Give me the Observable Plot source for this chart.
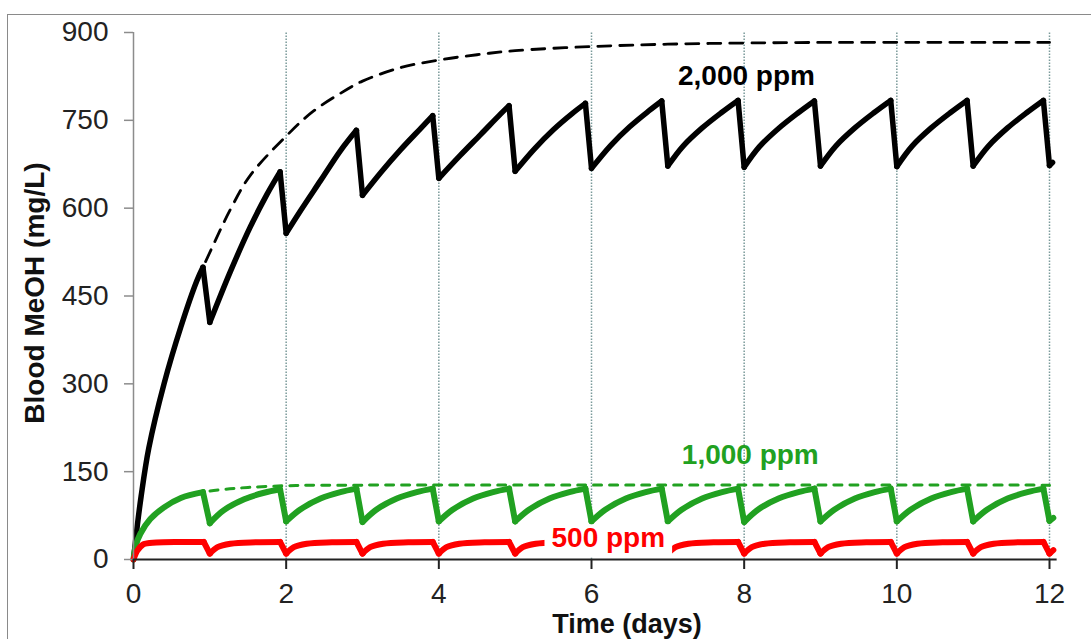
<!DOCTYPE html>
<html>
<head>
<meta charset="utf-8">
<script src="https://cdn.jsdelivr.net/npm/d3@7"></script>
<script src="https://cdn.jsdelivr.net/npm/@observablehq/plot@0.6"></script>
<style>
  html, body { margin: 0; padding: 0; background: #fff; }
  #wrap { position: relative; width: 1091px; height: 639px; overflow: hidden; }
  #frame { position: absolute; left: 7px; top: 14px; width: 1200px; height: 800px; border-left: 1.5px solid #8a8a8a; border-top: 1.5px solid #8a8a8a; }
  #chart { position: absolute; left: 0; top: 0; }
</style>
</head>
<body>
<div id="wrap"><div id="frame"></div><div id="chart"></div></div>
<script>
// ---- data (time in days, blood MeOH in mg/L) ----
const xTicks = [0, 2, 4, 6, 8, 10, 12];
const yTicks = [0, 150, 300, 450, 600, 750, 900];
const gridDays = [2, 4, 6, 8, 10, 12];

// 2,000 ppm: daily exposure rises (each ends in a sharp drop to the next start)
const blackRises = [
  [[0,0],[0.05,58],[0.1,108],[0.2,190],[0.4,300],[0.62,397],[0.83,476],[0.91,499]],
  [[1,405],[1.27,492],[1.53,568],[1.75,624],[1.92,662]],
  [[2,557],[2.19,596],[2.45,647],[2.71,698],[2.92,733]],
  [[3,622],[3.24,661],[3.5,700],[3.76,736],[3.92,758]],
  [[4,651],[4.28,690],[4.55,726],[4.81,761],[4.92,775]],
  [[5,663],[5.25,701],[5.5,734],[5.75,762],[5.92,779]],
  [[6,668],[6.25,707],[6.5,739],[6.75,766],[6.92,783]],
  [[7,672],[7.2,706],[7.45,737],[7.7,763],[7.92,784]],
  [[8,670],[8.2,705],[8.45,736],[8.7,762],[8.92,783]],
  [[9,672],[9.2,706],[9.45,737],[9.7,763],[9.92,784]],
  [[10,671],[10.2,706],[10.45,737],[10.7,763],[10.92,784]],
  [[11,672],[11.2,706],[11.45,737],[11.7,763],[11.92,784]],
  [[12,673],[12.04,678]]
];
// 2,000 ppm continuous exposure (dashed)
const blackDashed = [[0,0],[0.05,58],[0.1,108],[0.2,190],[0.4,300],[0.62,397],[0.83,476],[0.97,516],[1.27,598],[1.53,656],[2,723],[2.36,766],[2.8,803],[3,817],[3.5,840],[4,853],[4.5,862],[5,869],[6,876],[7,880],[8,882],[9,883],[12,883]];

// 1,000 ppm
const greenRises = [
  [[0,0],[0.03,24],[0.09,44],[0.22,69],[0.4,89],[0.62,105],[0.91,115]],
  [[1,62],[1.18,84],[1.45,103],[1.71,114],[1.92,120]],
  [[2,65],[2.18,85],[2.45,104],[2.71,115],[2.92,121]],
  [[3,64],[3.18,85],[3.45,104],[3.71,115],[3.92,121]],
  [[4,65],[4.18,85],[4.45,104],[4.71,115],[4.92,121]],
  [[5,65],[5.18,85],[5.45,104],[5.71,115],[5.92,121]],
  [[6,65],[6.18,85],[6.45,104],[6.71,115],[6.92,121]],
  [[7,65],[7.18,85],[7.45,104],[7.71,115],[7.92,121]],
  [[8,64],[8.18,85],[8.45,104],[8.71,115],[8.92,121]],
  [[9,65],[9.18,85],[9.45,104],[9.71,115],[9.92,121]],
  [[10,65],[10.18,85],[10.45,104],[10.71,115],[10.92,121]],
  [[11,65],[11.18,85],[11.45,104],[11.71,115],[11.92,121]],
  [[12,66],[12.05,71]]
];
const greenDashed = [[0,0],[0.03,24],[0.09,44],[0.22,69],[0.4,89],[0.62,105],[0.91,115],[1.2,120],[1.5,123],[2,126],[3,127],[12,127]];

// 500 ppm
const redRises = [
  [[0,0],[0.05,15],[0.13,26],[0.3,29],[0.6,30],[0.92,30]],
  [[1,10],[1.1,21],[1.27,27],[1.6,29.5],[1.92,30]],
  [[2,10],[2.1,21],[2.27,27],[2.6,29.5],[2.92,30]],
  [[3,10],[3.1,21],[3.27,27],[3.6,29.5],[3.92,30]],
  [[4,10],[4.1,21],[4.27,27],[4.6,29.5],[4.92,30]],
  [[5,10],[5.1,21],[5.27,27],[5.6,29.5],[5.92,30]],
  [[6,10],[6.1,21],[6.27,27],[6.6,29.5],[6.92,30]],
  [[7,10],[7.1,21],[7.27,27],[7.6,29.5],[7.92,30]],
  [[8,10],[8.1,21],[8.27,27],[8.6,29.5],[8.92,30]],
  [[9,10],[9.1,21],[9.27,27],[9.6,29.5],[9.92,30]],
  [[10,10],[10.1,21],[10.27,27],[10.6,29.5],[10.92,30]],
  [[11,10],[11.1,21],[11.27,27],[11.6,29.5],[11.92,30]],
  [[12,10],[12.05,16]]
];

const seriesLabels = [
  {t: 8.03, v: 825, text: "2,000 ppm", color: "#000000"},
  {t: 8.08, v: 179, text: "1,000 ppm", color: "#21a121"},
  {t: 6.22, v: 36,  text: "500 ppm",   color: "#ff0000"}
];

// ---- helpers building tables from the arrays ----
function riseRows(rises) {
  const rows = [];
  rises.forEach((seg, i) => seg.forEach(([t, v]) => rows.push({t, v, seg: i})));
  return rows;
}
function dropRows(rises) {
  const rows = [];
  for (let i = 0; i < rises.length - 1; i++) {
    const a = rises[i][rises[i].length - 1], b = rises[i + 1][0];
    rows.push({t: a[0], v: a[1], seg: i}, {t: b[0], v: b[1], seg: i});
  }
  return rows;
}
const asRows = arr => arr.map(([t, v]) => ({t, v}));

const FONT = "Liberation Sans, Arial, Helvetica, sans-serif";
const solid = (rises, color, w) => [
  Plot.line(riseRows(rises), {x: "t", y: "v", z: "seg", stroke: color, strokeWidth: w, curve: "catmull-rom", strokeLinecap: "round", strokeLinejoin: "round"}),
  Plot.line(dropRows(rises), {x: "t", y: "v", z: "seg", stroke: color, strokeWidth: w, strokeLinecap: "round", strokeLinejoin: "round"})
];

const chart = Plot.plot({
  width: 1091,
  height: 639,
  marginLeft: 133,
  marginRight: 42,
  marginTop: 32,
  marginBottom: 80,
  style: {fontFamily: FONT, background: "transparent", overflow: "visible"},
  x: {domain: [0, 12]},
  y: {domain: [0, 900]},
  marks: [
    Plot.ruleX(gridDays, {y1: 0, y2: 900, stroke: "#7a9a9a", strokeWidth: 1.5, strokeDasharray: "1.5,1.5"}),
    Plot.line(asRows(blackDashed), {x: "t", y: "v", stroke: "#000", strokeWidth: 2.8, strokeDasharray: "13,9", curve: "catmull-rom"}),
    Plot.line(asRows(greenDashed), {x: "t", y: "v", stroke: "#21a121", strokeWidth: 3, strokeDasharray: "8,8", curve: "catmull-rom"}),
    ...solid(blackRises, "#000000", 5.5),
    ...solid(greenRises, "#21a121", 6),
    ...solid(redRises, "#ff0000", 6),
    Plot.text(seriesLabels, {x: "t", y: "v", text: "text", fill: "color", fontSize: 28, fontWeight: "bold", textAnchor: "middle", className: "series-label"}),
    Plot.ruleX([0], {y1: 0, y2: 900, stroke: "#8c8c8c", strokeWidth: 1.5}),
    Plot.axisY({ticks: yTicks, tickSize: 9, tickPadding: 16, fontSize: 28, fill: "#222", stroke: "#8c8c8c", strokeWidth: 1.5, label: null}),
    Plot.axisX({ticks: xTicks, tickSize: 10, tickPadding: 14, fontSize: 28, fill: "#222", stroke: "#222", strokeWidth: 2, label: null}),
    Plot.ruleY([0], {x1: 0, x2: 12.1, stroke: "#222", strokeWidth: 2})
  ]
});

document.getElementById("chart").appendChild(chart);

// white box behind the "500 ppm" label (it sits on its own line)
const svg = d3.select(chart);
svg.selectAll("g.series-label text").each(function () {
  if (this.textContent !== "500 ppm") return;
  const bb = this.getBBox();
  const rect = document.createElementNS("http://www.w3.org/2000/svg", "rect");
  rect.setAttribute("x", bb.x - 7);
  rect.setAttribute("y", bb.y + 2);
  rect.setAttribute("width", bb.width + 14);
  rect.setAttribute("height", bb.height + 2);
  rect.setAttribute("fill", "white");
  const tr = this.getAttribute("transform");
  if (tr) rect.setAttribute("transform", tr);
  this.parentNode.insertBefore(rect, this);
});

// axis titles
svg.append("text")
  .attr("transform", "translate(44,293) rotate(-90)")
  .attr("text-anchor", "middle")
  .style("font", `bold 28px ${FONT}`)
  .attr("fill", "#111")
  .text("Blood MeOH (mg/L)");
svg.append("text")
  .attr("x", 627).attr("y", 633)
  .attr("text-anchor", "middle")
  .style("font", `bold 27px ${FONT}`)
  .attr("fill", "#111")
  .text("Time (days)");
</script>
</body>
</html>
